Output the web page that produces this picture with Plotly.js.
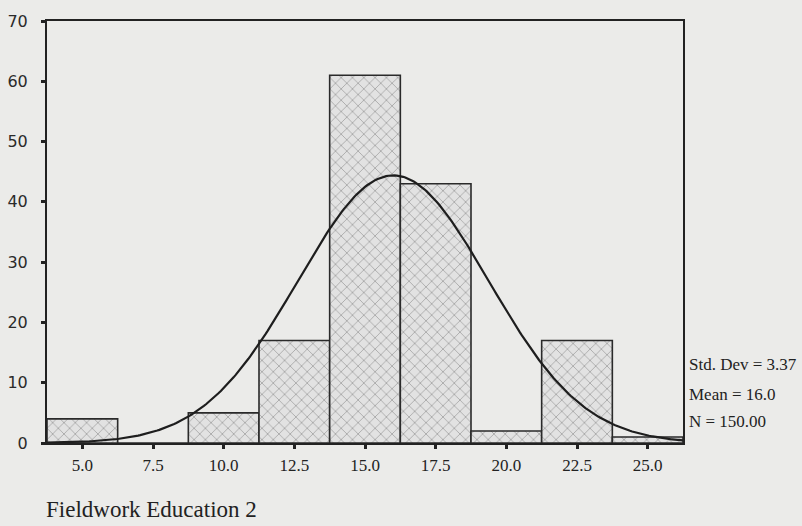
<!DOCTYPE html>
<html>
<head>
<meta charset="utf-8">
<script src="https://cdn.plot.ly/plotly-3.0.1.min.js"></script>
<style>html,body{margin:0;padding:0;background:#ebebe9;}</style>
</head>
<body>
<div id="chart" style="width:802px;height:526px;"></div>
<script>
// Histogram bins (centres) and counts
const binCenters = [5.0, 7.5, 10.0, 12.5, 15.0, 17.5, 20.0, 22.5, 25.0];
const counts     = [4, 0, 5, 17, 61, 43, 2, 17, 1];
const tickVals   = [5.0, 7.5, 10.0, 12.5, 15.0, 17.5, 20.0, 22.5, 25.0];
const tickText   = ["5.0", "7.5", "10.0", "12.5", "15.0", "17.5", "20.0", "22.5", "25.0"];
const stdDev = 3.37;
const mean = 16.0;
const nObs = 150;
const binWidth = 2.5;
const statLabels = ["Std. Dev = 3.37", "Mean = 16.0", "N = 150.00"];
const xLabel = "Fieldwork Education 2";

// Fitted normal curve (as drawn by the original software)
const curveX = [], curveY = [];
for (let i = 0; i <= 300; i++) {
  const x = 3.75 + i * (22.5 / 300);
  const z = (x - mean) / stdDev;
  curveX.push(x);
  curveY.push(nObs * binWidth / (stdDev * Math.sqrt(2 * Math.PI)) * Math.exp(-0.5 * z * z));
}

const bars = {
  type: 'bar',
  x: binCenters,
  y: counts,
  width: binWidth,
  marker: {
    color: '#dcdcdc',
    line: {color: '#2a2a2a', width: 1.6},
    pattern: {shape: 'x', size: 8, solidity: 0.22, fgcolor: '#ababab', bgcolor: '#e2e2e2'}
  },
  hoverinfo: 'skip',
  showlegend: false
};
const curve = {
  type: 'scatter', mode: 'lines',
  x: curveX, y: curveY,
  line: {color: '#1e1e1e', width: 2.2},
  hoverinfo: 'skip', showlegend: false
};

const bg = '#ebebe9';
const serif = 'Liberation Serif, Times New Roman, serif';
const statY = [0.185, 0.114, 0.05];
const annotations = statLabels.map((t, i) => ({
  text: t, xref: 'paper', yref: 'paper', x: 1.007, y: statY[i],
  xanchor: 'left', yanchor: 'middle', showarrow: false,
  font: {family: serif, size: 17, color: '#222'}
}));
annotations.push({
  text: xLabel, xref: 'paper', yref: 'paper', x: -0.005, y: -0.157,
  xanchor: 'left', yanchor: 'middle', showarrow: false,
  font: {family: serif, size: 23, color: '#222'}
});

const layout = {
  width: 802, height: 526,
  margin: {l: 47, r: 119, t: 21, b: 83, pad: 0},
  paper_bgcolor: bg, plot_bgcolor: bg,
  bargap: 0,
  xaxis: {
    range: [3.75, 26.25], tickvals: tickVals, ticktext: tickText,
    showline: true, mirror: true, linecolor: '#222', linewidth: 2,
    ticks: 'outside', ticklen: 4, tickwidth: 3, tickcolor: '#222',
    showgrid: false, zeroline: false,
    ticklabelstandoff: 2,
    tickfont: {family: serif, size: 17, color: '#222'}
  },
  yaxis: {
    range: [0, 70], dtick: 10, tick0: 0,
    showline: true, mirror: true, linecolor: '#222', linewidth: 2,
    ticks: 'outside', ticklen: 4, tickwidth: 3, tickcolor: '#222',
    showgrid: false, zeroline: false,
    ticklabelstandoff: 10,
    tickfont: {family: 'DejaVu Sans, sans-serif', size: 16, color: '#2a2a2a'}
  },
  annotations: annotations
};

Plotly.newPlot('chart', [bars, curve], layout, {displayModeBar: false, staticPlot: true});
</script>
</body>
</html>
